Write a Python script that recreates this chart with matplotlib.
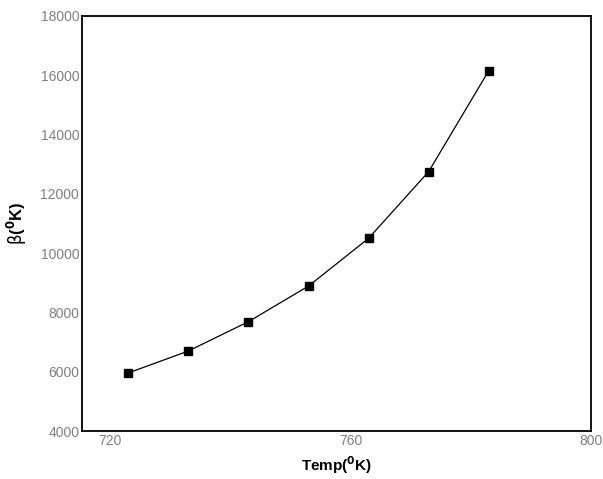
import matplotlib
matplotlib.use('agg')
from matplotlib import pyplot as plt

plt.rc('font', family=['Liberation Sans', 'DejaVu Sans'])
plt.rc('mathtext', default='bf')

# data
temp = [723, 733, 743, 753, 763, 773, 783]
beta = [5960, 6700, 7690, 8890, 10500, 12750, 16150]

x_ticks = [720, 760, 800]
y_ticks = [4000, 6000, 8000, 10000, 12000, 14000, 16000, 18000]

fig = plt.figure(figsize=(6.03, 4.79), dpi=100)
ax = fig.add_axes([0.136, 0.100, 0.844, 0.867])

ax.plot(temp, beta, color='black', lw=0.9, marker='s', ms=6,
        markerfacecolor='black', markeredgecolor='black')

ax.set_xlim(715.3, 800)
ax.set_ylim(4000, 18000)
ax.set_xticks(x_ticks)
ax.set_yticks(y_ticks)
ax.tick_params(length=0, labelsize=10, labelcolor='#808080', pad=2)
for side in ax.spines.values():
    side.set_linewidth(1.3)

ax.set_xlabel(r'Temp($^{0}$K)', fontsize=11, fontweight='bold')
ax.set_ylabel(r'$\mathrm{\beta}$($^{0}$K)', fontsize=12, fontweight='bold')
ax.xaxis.set_label_coords(0.5, -0.055)
ax.yaxis.set_label_coords(-0.104, 0.5)

fig.savefig('out.png', dpi=100)
